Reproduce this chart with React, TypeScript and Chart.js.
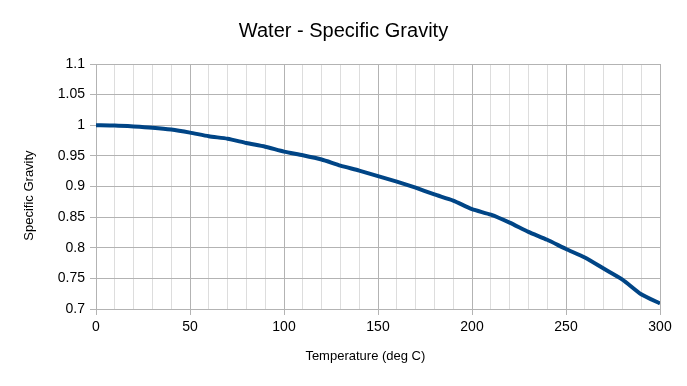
import React, { useEffect, useRef } from "react";
import { Chart, registerables } from "chart.js";

Chart.register(...registerables);

const temperatures = [0, 10, 20, 30, 40, 50, 60, 70, 80, 90, 100, 110, 120, 130, 140, 150, 160, 170, 180, 190, 200, 210, 220, 230, 240, 250, 260, 270, 280, 290, 300];
const specificGravity = [1.0, 0.9995, 0.998, 0.996, 0.993, 0.988, 0.982, 0.978, 0.971, 0.965, 0.957, 0.951, 0.944, 0.934, 0.926, 0.917, 0.908, 0.898, 0.887, 0.877, 0.863, 0.854, 0.841, 0.826, 0.813, 0.798, 0.784, 0.766, 0.748, 0.724, 0.709];

const chartTitle = "Water - Specific Gravity";
const xTitle = "Temperature (deg C)";
const yTitle = "Specific Gravity";

const FONT = "'Liberation Sans', Arial, sans-serif";
const MAJOR = "#b3b3b3";
const MINOR = "#dddddd";

export default function App() {
  const ref = useRef<HTMLCanvasElement | null>(null);

  useEffect(() => {
    if (!ref.current) return;
    const points = temperatures.map((t, i) => ({ x: t, y: specificGravity[i] }));
    const chart = new Chart(ref.current, {
      type: "line",
      data: {
        datasets: [
          {
            data: points,
            borderColor: "#004586",
            borderWidth: 4,
            pointRadius: 0,
            tension: 0.2,
            fill: false,
          },
        ],
      },
      options: {
        animation: false,
        responsive: false,
        devicePixelRatio: 1,
        layout: { padding: 0 },
        plugins: {
          legend: { display: false },
          tooltip: { enabled: false },
          title: {
            display: true,
            text: chartTitle,
            color: "#000",
            font: { family: FONT, size: 20, weight: "normal" },
            padding: { top: 19, bottom: 21 },
          },
        },
        scales: {
          x: {
            type: "linear",
            min: 0,
            max: 300,
            afterFit: (scale: any) => {
              scale.height = 77;
              scale.paddingRight = 27;
            },
            ticks: {
              stepSize: 10,
              autoSkip: false,
              maxRotation: 0,
              color: "#000",
              padding: 4,
              font: { family: FONT, size: 14 },
              callback: (v: any) => (Number(v) % 50 === 0 ? String(v) : ""),
            },
            grid: {
              color: (ctx: any) => (ctx.tick && ctx.tick.value % 50 === 0 ? MAJOR : MINOR),
              tickColor: (ctx: any) => (ctx.tick && ctx.tick.value % 50 === 0 ? MAJOR : "rgba(0,0,0,0)"),
              tickLength: 6,
              lineWidth: 1,
            },
            border: { color: MAJOR },
            title: {
              display: true,
              text: xTitle + "       ",
              color: "#000",
              font: { family: FONT, size: 13 },
              padding: { top: 0, bottom: 22 },
            },
          },
          y: {
            type: "linear",
            min: 0.7,
            max: 1.1,
            afterFit: (scale: any) => {
              scale.width = 96;
            },
            ticks: {
              stepSize: 0.05,
              color: "#000",
              padding: 5,
              font: { family: FONT, size: 14 },
              callback: (v: any) => String(Number(Number(v).toFixed(2))),
            },
            grid: {
              color: MAJOR,
              tickColor: MAJOR,
              tickLength: 6,
              lineWidth: 1,
            },
            border: { color: MAJOR },
            title: {
              display: true,
              text: yTitle + "     ",
              color: "#000",
              font: { family: FONT, size: 13 },
              padding: { top: 22, bottom: 0 },
            },
          },
        },
      },
    });
    return () => chart.destroy();
  }, []);

  return (
    <div style={{ position: "absolute", left: 0, top: 0, width: 687, height: 386, background: "#fff" }}>
      <canvas ref={ref} width={687} height={386} />
    </div>
  );
}
